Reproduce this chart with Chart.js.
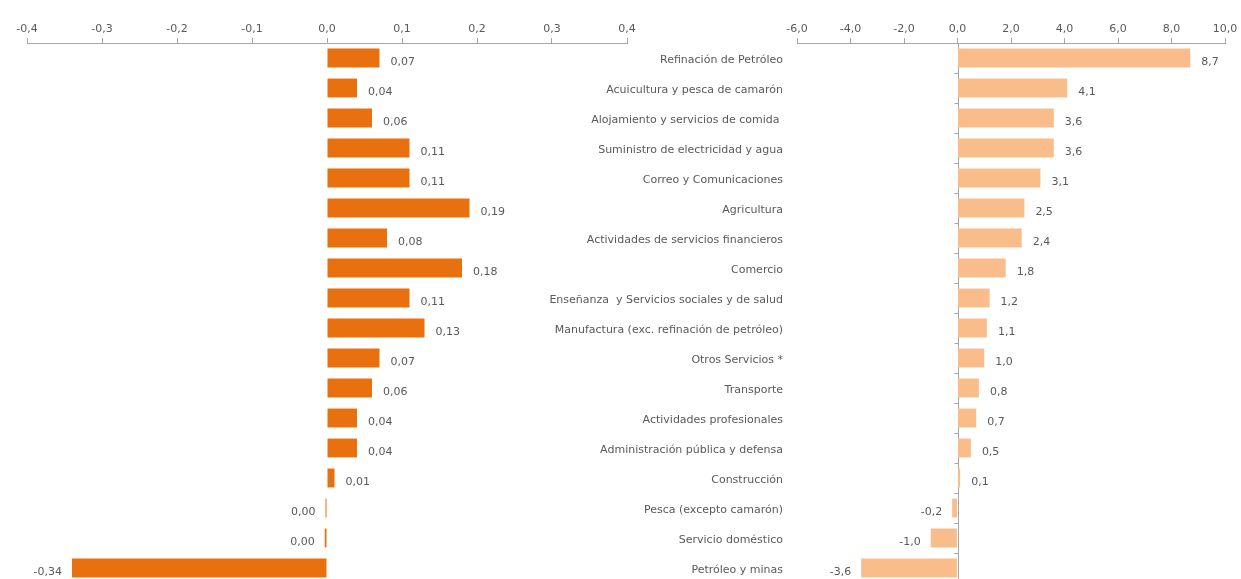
<!DOCTYPE html>
<html>
<head>
<meta charset="utf-8">
<script src="https://cdn.jsdelivr.net/npm/chart.js@4.4.0/dist/chart.umd.min.js"></script>
<style>
  html, body { margin: 0; padding: 0; background: #fff; overflow: hidden; width: 1241px; height: 579px; }
  #aporte { position: absolute; left: 0; top: 0; }
  #variacion { position: absolute; left: 520px; top: 0; }
</style>
</head>
<body>
<canvas id="aporte" width="640" height="583"></canvas>
<canvas id="variacion" width="721" height="583"></canvas>
<script>
// Sectores económicos (mismo orden en ambos gráficos)
const sectores = [
  'Refinación de Petróleo',
  'Acuicultura y pesca de camarón',
  'Alojamiento y servicios de comida ',
  'Suministro de electricidad y agua',
  'Correo y Comunicaciones',
  'Agricultura',
  'Actividades de servicios financieros',
  'Comercio',
  'Enseñanza  y Servicios sociales y de salud',
  'Manufactura (exc. refinación de petróleo)',
  'Otros Servicios *',
  'Transporte',
  'Actividades profesionales',
  'Administración pública y defensa',
  'Construcción',
  'Pesca (excepto camarón)',
  'Servicio doméstico',
  'Petróleo y minas'
];

// Aporte al crecimiento (puntos porcentuales)
const aporte = [0.07, 0.04, 0.06, 0.11, 0.11, 0.19, 0.08, 0.18, 0.11, 0.13, 0.07, 0.06, 0.04, 0.04, 0.01, -0.002, -0.003, -0.34];

// Variación anual (%)
const variacion = [8.7, 4.1, 3.6, 3.6, 3.1, 2.5, 2.4, 1.8, 1.2, 1.1, 1.0, 0.8, 0.7, 0.5, 0.1, -0.2, -1.0, -3.6];

// Rangos de los ejes
const ejeAporte = { min: -0.4, max: 0.4, paso: 0.1 };
const ejeVariacion = { min: -6, max: 10, paso: 2 };

const GRIS_TEXTO = '#595959';
const GRIS_EJE = '#a6a6a6';
const FUENTE = { family: '"DejaVu Sans", Verdana, sans-serif', size: 11 };

function coma(v, dec) {
  return (Math.round(v * Math.pow(10, dec)) / Math.pow(10, dec)).toFixed(dec).replace('.', ',');
}

// Etiquetas de valor al final de cada barra
const etiquetasValor = {
  id: 'etiquetasValor',
  afterDatasetsDraw(chart, args, opts) {
    const { ctx } = chart;
    const meta = chart.getDatasetMeta(0);
    const datos = chart.data.datasets[0].data;
    ctx.save();
    ctx.font = FUENTE.size + 'px ' + FUENTE.family;
    ctx.fillStyle = GRIS_TEXTO;
    ctx.textBaseline = 'middle';
    meta.data.forEach((barra, i) => {
      const v = datos[i];
      const txt = coma(v, opts.decimales);
      if (v < 0) {
        ctx.textAlign = 'right';
        ctx.fillText(txt, barra.x - 10, barra.y + 4);
      } else {
        ctx.textAlign = 'left';
        ctx.fillText(txt, barra.x + 11, barra.y + 4);
      }
    });
    ctx.restore();
  }
};

// Línea vertical en cero con marcas entre categorías
const lineaCero = {
  id: 'lineaCero',
  beforeDatasetsDraw(chart) {
    const { ctx, chartArea } = chart;
    const x0 = Math.round(chart.scales.x.getPixelForValue(0)) + 0.5;
    const ys = chart.scales.y;
    ctx.save();
    ctx.strokeStyle = GRIS_EJE;
    ctx.lineWidth = 1;
    ctx.beginPath();
    ctx.moveTo(x0, chartArea.top);
    ctx.lineTo(x0, chartArea.bottom);
    for (let i = 0; i <= sectores.length; i++) {
      const y = Math.round(ys.getPixelForValue(i - 0.5)) + 0.5;
      ctx.moveTo(x0 - 4, y);
      ctx.lineTo(x0, y);
    }
    ctx.stroke();
    ctx.restore();
  }
};

function ejeX(rango) {
  return {
    position: 'top',
    min: rango.min,
    max: rango.max,
    ticks: {
      stepSize: rango.paso,
      autoSkip: false,
      maxRotation: 0,
      color: GRIS_TEXTO,
      font: FUENTE,
      padding: 2,
      callback: v => coma(v, 1)
    },
    grid: { drawOnChartArea: false, tickLength: 5, color: GRIS_EJE },
    border: { color: GRIS_EJE },
    afterFit(s) { s.height = 43; }
  };
}

new Chart(document.getElementById('aporte'), {
  type: 'bar',
  data: {
    labels: sectores,
    datasets: [{
      data: aporte,
      backgroundColor: '#e8700f',
      categoryPercentage: 1,
      barPercentage: 0.63
    }]
  },
  options: {
    indexAxis: 'y',
    responsive: false,
    animation: false,
    devicePixelRatio: 1,
    layout: { padding: { left: 27, right: 13, top: 0, bottom: 0 } },
    plugins: {
      legend: { display: false },
      tooltip: { enabled: false },
      etiquetasValor: { decimales: 2 }
    },
    scales: {
      x: ejeX(ejeAporte),
      y: { display: false }
    }
  },
  plugins: [etiquetasValor]
});

new Chart(document.getElementById('variacion'), {
  type: 'bar',
  data: {
    labels: sectores,
    datasets: [{
      data: variacion,
      backgroundColor: '#f9bd8b',
      categoryPercentage: 1,
      barPercentage: 0.63
    }]
  },
  options: {
    indexAxis: 'y',
    responsive: false,
    animation: false,
    devicePixelRatio: 1,
    layout: { padding: { left: 0, right: 16, top: 0, bottom: 0 } },
    plugins: {
      legend: { display: false },
      tooltip: { enabled: false },
      etiquetasValor: { decimales: 1 }
    },
    scales: {
      x: ejeX(ejeVariacion),
      y: {
        ticks: { color: GRIS_TEXTO, font: FUENTE, padding: 6, labelOffset: 2, autoSkip: false },
        grid: { display: false },
        border: { display: false },
        afterFit(s) {
          // etiquetas a la izquierda sin reservar margen vertical extra
          s.width = 277;
          s.paddingTop = 0;
          s.paddingBottom = 0;
        }
      }
    }
  },
  plugins: [lineaCero, etiquetasValor]
});
</script>
</body>
</html>
